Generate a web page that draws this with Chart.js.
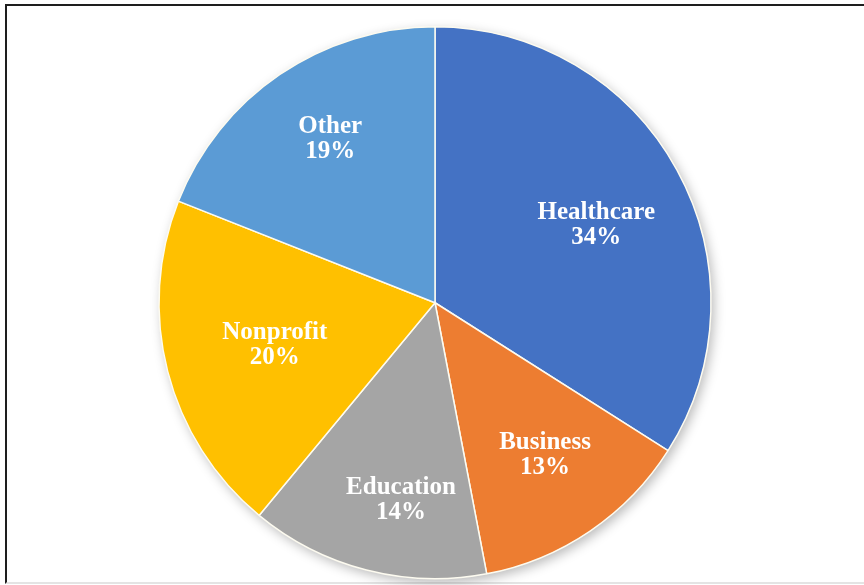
<!DOCTYPE html>
<html>
<head>
<meta charset="utf-8">
<script src="https://cdn.jsdelivr.net/npm/chart.js@4.4.1/dist/chart.umd.min.js"></script>
<style>
  html, body { margin: 0; padding: 0; background: #fff; }
  #wrap { position: relative; width: 864px; height: 585px; overflow: hidden; }
  #frame { position: absolute; left: 5px; top: 4px; width: 880px; height: 576px;
           border-top: 2px solid #1e1e1e; border-left: 2px solid #1e1e1e; border-bottom: 2px solid #e4e4e4; }
  canvas { position: absolute; left: 0; top: 0; }
</style>
</head>
<body>
<div id="wrap">
  <div id="frame"></div>
  <canvas id="sectorPie" width="864" height="585"></canvas>
</div>
<script>
  const sectors = ["Healthcare", "Business", "Education", "Nonprofit", "Other"];
  const shares = [34, 13, 14, 20, 19];
  const sliceColors = ["#4472C4", "#ED7D31", "#A5A5A5", "#FFC000", "#5B9BD5"];

  // soft drop shadow under the whole pie
  const pieShadow = {
    id: "pieShadow",
    beforeDatasetsDraw(chart) {
      const arc = chart.getDatasetMeta(0).data[0];
      if (!arc) return;
      const ctx = chart.ctx;
      ctx.save();
      ctx.shadowColor = "rgba(0,0,0,0.28)";
      ctx.shadowBlur = 12;
      ctx.shadowOffsetX = 3;
      ctx.shadowOffsetY = 4;
      ctx.fillStyle = "#fff";
      ctx.beginPath();
      ctx.arc(arc.x, arc.y, arc.outerRadius, 0, Math.PI * 2);
      ctx.fill();
      ctx.restore();
    }
  };

  // name and percentage written inside each slice
  const sliceLabels = {
    id: "sliceLabels",
    afterDatasetsDraw(chart, args, opts) {
      const ctx = chart.ctx;
      const meta = chart.getDatasetMeta(0);
      ctx.save();
      ctx.fillStyle = "#fff";
      ctx.font = "bold 25px 'Liberation Serif', 'Times New Roman', serif";
      ctx.textAlign = "center";
      ctx.textBaseline = "middle";
      meta.data.forEach((arc, i) => {
        const mid = (arc.startAngle + arc.endAngle) / 2 + opts.turn[i] * Math.PI / 180;
        const r = arc.outerRadius * opts.radii[i];
        const x = arc.x + Math.cos(mid) * r;
        const y = arc.y + Math.sin(mid) * r;
        ctx.fillText(chart.data.labels[i], x, y - 12);
        ctx.fillText(shares[i] + "%", x, y + 13);
      });
      ctx.restore();
    }
  };

  new Chart(document.getElementById("sectorPie"), {
    type: "pie",
    data: {
      labels: sectors,
      datasets: [{
        data: shares,
        backgroundColor: sliceColors,
        borderColor: "#fdfbf0",
        borderWidth: 1.5
      }]
    },
    options: {
      responsive: false,
      animation: false,
      layout: { padding: { top: 26, bottom: 5.5, left: 6, right: 0 } },
      plugins: {
        legend: { display: false },
        tooltip: { enabled: false },
        sliceLabels: {
          radii: [0.65, 0.68, 0.725, 0.6, 0.705],
          turn: [2.8, -1.7, -4.6, -0.3, 1.6]
        }
      }
    },
    plugins: [pieShadow, sliceLabels]
  });
</script>
</body>
</html>
